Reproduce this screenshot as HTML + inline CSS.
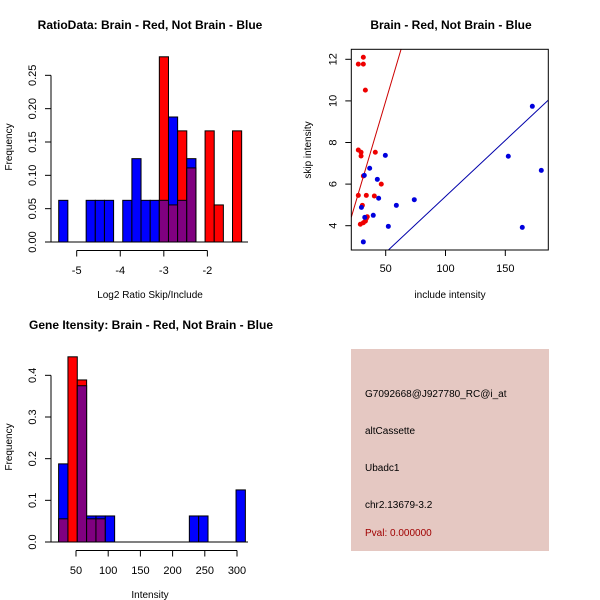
<!DOCTYPE html>
<html><head><meta charset="utf-8"><style>
body{margin:0;background:#fff}
svg{display:block;font-family:"Liberation Sans",sans-serif}
</style></head><body>
<svg id="c" width="600" height="600" xmlns="http://www.w3.org/2000/svg">
<text x="150" y="29" font-size="12" font-weight="bold" text-anchor="middle">RatioData: Brain - Red, Not Brain - Blue</text>
<text x="451" y="29" font-size="12" font-weight="bold" text-anchor="middle">Brain - Red, Not Brain - Blue</text>
<text x="151" y="329" font-size="12" font-weight="bold" text-anchor="middle">Gene Itensity: Brain - Red, Not Brain - Blue</text>
<text x="150" y="298" font-size="10" text-anchor="middle">Log2 Ratio Skip/Include</text>
<text x="12" y="147" font-size="10" text-anchor="middle" transform="rotate(-90 12 147)">Frequency</text>
<text x="450" y="298" font-size="10" text-anchor="middle">include intensity</text>
<text x="311" y="150" font-size="10" text-anchor="middle" transform="rotate(-90 311 150)">skip intensity</text>
<text x="150" y="598" font-size="10" text-anchor="middle">Intensity</text>
<text x="12" y="447" font-size="10" text-anchor="middle" transform="rotate(-90 12 447)">Frequency</text>
<rect x="351" y="349" width="198" height="202" fill="#e5c8c2"/>
<text x="365" y="397" font-size="10">G7092668@J927780_RC@i_at</text>
<text x="365" y="434" font-size="10">altCassette</text>
<text x="365" y="471" font-size="10">Ubadc1</text>
<text x="365" y="508" font-size="10">chr2.13679-3.2</text>
<text x="365" y="536" font-size="10" fill="#a00000">Pval: 0.000000</text>
<g id="g1"></g><g id="g2"></g><g id="g3"></g>
</svg>
<script>
// Ratio histogram data
const ratioBinStart = -5.413, ratioBinWidth = 0.21;
const ratioBlue = [0.0625,0,0,0.0625,0.0625,0.0625,0,0.0625,0.125,0.0625,0.0625,0.0625,0.1875,0.0625,0.125,0,0,0,0,0];
const ratioRed  = [0,0,0,0,0,0,0,0,0,0,0,0.2778,0.0556,0.1667,0.1111,0,0.1667,0.0556,0,0.1667];
const ratioXTicks = [-5,-4,-3,-2];
const ratioYTicks = [0,0.05,0.10,0.15,0.20,0.25];
const ratioYLabels = ["0.00","0.05","0.10","0.15","0.20","0.25"];
// Gene intensity histogram data
const geneBinStart = 23, geneBinWidth = 14.5;
const geneBlue = [0.1875,0,0.375,0.0625,0.0625,0.0625,0,0,0,0,0,0,0,0,0.0625,0.0625,0,0,0,0.125];
const geneRed  = [0.0556,0.4444,0.3889,0.0556,0.0556,0,0,0,0,0,0,0,0,0,0,0,0,0,0,0];
const geneXTicks = [50,100,150,200,250,300];
const geneYTicks = [0,0.1,0.2,0.3,0.4];
const geneYLabels = ["0.0","0.1","0.2","0.3","0.4"];
// Scatter data
const redX = [27.1,31.3,31.3,33,27.1,29.4,29.4,31.3,41.3,27.1,33.8,40.5,46.3,30.5,28.8,31.3,33,33.8,34.6];
const redY = [11.77,12.1,11.77,10.52,7.64,7.53,7.35,6.39,7.53,5.46,5.46,5.43,6.0,4.98,4.07,4.14,4.22,4.35,4.43];
const blueX = [36.6,32.1,43,49.7,44.1,29.7,32.5,39.6,58.9,73.9,52.2,31.3,152.5,172.6,180.1,164.2];
const blueY = [6.76,6.42,6.23,7.38,5.32,4.88,4.40,4.5,4.98,5.25,3.97,3.22,7.34,9.74,6.66,3.92];
const redSlope = 0.194, redIntercept = 0.29;
const blueSlope = 0.0539, blueIntercept = 0.016;
const scXTicks = [50,100,150];
const scYTicks = [4,6,8,10,12];

const NS="http://www.w3.org/2000/svg";
function mk(parent,tag,attrs){const e=document.createElementNS(NS,tag);for(const k in attrs)e.setAttribute(k,attrs[k]);parent.appendChild(e);return e;}

function hist(g,blue,red,start,w,sx,sy,xt,yt,yl,axisY,xTickLabelY,yAxisX,xLabels,name){
  for(let i=0;i<blue.length;i++){
    const x0=sx(start+i*w), x1=sx(start+(i+1)*w);
    const b=blue[i], r=red[i];
    const mx=Math.max(b,r), mn=Math.min(b,r);
    if(mx>0){
      const e=mk(g,'rect',{x:x0,y:sy(mx),width:x1-x0,height:sy(0)-sy(mx),fill:b>r?'#0000ff':'#ff0000',stroke:'#000','stroke-width':1});
      
      
    }
    if(mn>0){
      const e=mk(g,'rect',{x:x0,y:sy(mn),width:x1-x0,height:sy(0)-sy(mn),fill:'#800080',stroke:'#000','stroke-width':1});
      
      
    }
  }
  const base=mk(g,'line',{x1:51,x2:248,y1:sy(0),y2:sy(0),stroke:'#000'});
  
  
  const xa=mk(g,'line',{x1:sx(xt[0]),x2:sx(xt[xt.length-1]),y1:axisY,y2:axisY,stroke:'#000'});
  
  
  xt.forEach((v,i)=>{
    mk(g,'line',{x1:sx(v),x2:sx(v),y1:axisY,y2:axisY+6,stroke:'#000'});
    const t=mk(g,'text',{x:sx(v),y:xTickLabelY,'font-size':11,'text-anchor':'middle'});
    t.textContent=xLabels[i];
    
    
  });
  const ya=mk(g,'line',{x1:yAxisX,x2:yAxisX,y1:sy(yt[0]),y2:sy(yt[yt.length-1]),stroke:'#000'});
  
  
  yt.forEach((v,i)=>{
    mk(g,'line',{x1:yAxisX-6,x2:yAxisX,y1:sy(v),y2:sy(v),stroke:'#000'});
    const tx=yAxisX-15, ty=sy(v);
    const t=mk(g,'text',{x:tx,y:ty,'font-size':11,'text-anchor':'middle',transform:`rotate(-90 ${tx} ${ty})`});
    t.textContent=yl[i];
    
    
  });
}
// ratio
{
  const sx=v=>76.7+(v+5)*43.56, sy=v=>242-v*666.7;
  hist(document.getElementById('g1'),ratioBlue,ratioRed,ratioBinStart,ratioBinWidth,sx,sy,ratioXTicks,ratioYTicks,ratioYLabels,250.5,274,51,ratioXTicks.map(String),'ratio');
}
// gene
{
  const sx=v=>76+(v-50)*0.644, sy=v=>542-v*416.7;
  hist(document.getElementById('g3'),geneBlue,geneRed,geneBinStart,geneBinWidth,sx,sy,geneXTicks,geneYTicks,geneYLabels,550.5,574,51,geneXTicks.map(String),'gene');
}
// scatter
{
  const g=document.getElementById('g2');
  const sx=v=>385.7+(v-50)*1.196, sy=v=>225.7-(v-4)*20.8;
  const L=351.3,R=548.3,T=49.3,B=250;
  mk(g,'clipPath',{id:'clip'});
  mk(document.getElementById('clip'),'rect',{x:L,y:T,width:R-L,height:B-T});
  const xmin=(L-385.7)/1.196+50, xmax=(R-385.7)/1.196+50;
  const rl=mk(g,'line',{x1:sx(xmin),y1:sy(redSlope*xmin+redIntercept),x2:sx(xmax),y2:sy(redSlope*xmax+redIntercept),stroke:'#cc0000','clip-path':'url(#clip)'});
  
  
  const bl=mk(g,'line',{x1:sx(xmin),y1:sy(blueSlope*xmin+blueIntercept),x2:sx(xmax),y2:sy(blueSlope*xmax+blueIntercept),stroke:'#0000aa','clip-path':'url(#clip)'});
  
  
  redX.forEach((x,i)=>{const c=mk(g,'circle',{cx:sx(x),cy:sy(redY[i]),r:2.5,fill:'#ee0000'});
    
    });
  blueX.forEach((x,i)=>{const c=mk(g,'circle',{cx:sx(x),cy:sy(blueY[i]),r:2.5,fill:'#0000dd'});
    
    });
  const box=mk(g,'rect',{x:L,y:T,width:R-L,height:B-T,fill:'none',stroke:'#000'});
  
  
  scXTicks.forEach(v=>{mk(g,'line',{x1:sx(v),x2:sx(v),y1:B,y2:B+6,stroke:'#000'});
    const t=mk(g,'text',{x:sx(v),y:B+22,'font-size':11,'text-anchor':'middle'});t.textContent=v;
    
    });
  scYTicks.forEach(v=>{mk(g,'line',{x1:L-6,x2:L,y1:sy(v),y2:sy(v),stroke:'#000'});
    const tx=L-15,ty=sy(v);
    const t=mk(g,'text',{x:tx,y:ty,'font-size':11,'text-anchor':'middle',transform:`rotate(-90 ${tx} ${ty})`});t.textContent=v;
    
    });
}
</script>
</body></html>
